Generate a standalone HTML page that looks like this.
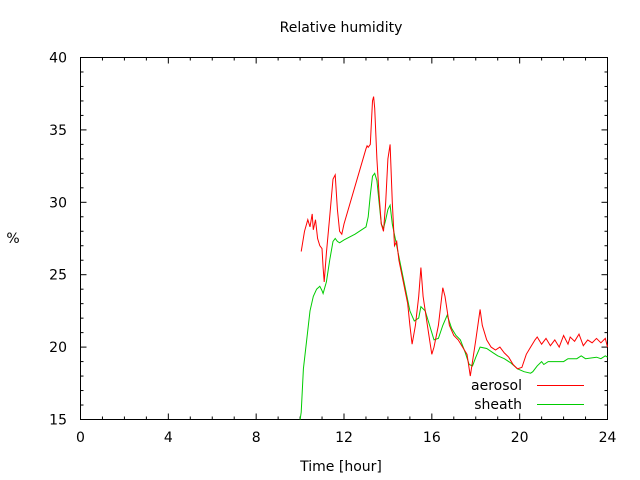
<!DOCTYPE html>
<html><head><meta charset="utf-8"><style>
html,body{margin:0;padding:0;background:#fff}
svg{display:block;font-family:"DejaVu Sans","Liberation Sans",sans-serif;font-size:14px}
</style></head><body>
<svg id="chart" width="640" height="480">
<text x="341" y="32" text-anchor="middle">Relative humidity</text>
<text x="341" y="471" text-anchor="middle">Time [hour]</text>
<text x="13" y="243" text-anchor="middle">%</text>
<rect x="80.5" y="57.5" width="527" height="362" fill="none" stroke="#000"/>
<g id="ticks"></g>
<g id="series"></g>
<g>
<text x="522" y="390" text-anchor="end">aerosol</text>
<line x1="537" y1="385.5" x2="584" y2="385.5" stroke="#f00"/>
<text x="522" y="409" text-anchor="end">sheath</text>
<line x1="537" y1="404.5" x2="584" y2="404.5" stroke="#0c0"/>
</g>
</svg>
<script>
const xTicks=[0,4,8,12,16,20,24];
const yTicks=[15,20,25,30,35,40];
const aerosolT=[10.05,10.2,10.35,10.45,10.55,10.6,10.7,10.8,10.9,11.0,11.05,11.1,11.2,11.35,11.5,11.6,11.7,11.8,11.9,12.0,13.0,13.05,13.1,13.2,13.3,13.35,13.4,13.5,13.6,13.7,13.8,13.9,14.0,14.1,14.2,14.3,14.4,14.5,14.7,14.9,15.0,15.1,15.25,15.4,15.5,15.6,15.8,16.0,16.1,16.3,16.5,16.6,16.8,17.0,17.2,17.4,17.6,17.75,17.85,18.0,18.2,18.3,18.5,18.7,18.9,19.1,19.3,19.5,19.7,19.9,20.1,20.3,20.5,20.7,20.8,21.0,21.2,21.4,21.6,21.8,22.0,22.2,22.3,22.5,22.7,22.9,23.1,23.3,23.5,23.7,23.9,24.0];
const aerosolV=[26.6,28.0,28.8,28.3,29.2,28.1,28.8,27.5,27.0,26.8,25.5,24.5,26.5,29.0,31.6,31.9,29.5,28.0,27.8,28.5,33.7,33.9,33.8,34.0,37.0,37.3,36.5,33.0,30.5,28.5,28.0,30.0,33.0,34.0,30.0,27.0,27.3,26.0,24.5,23.0,21.5,20.2,21.5,23.5,25.5,23.5,21.5,19.5,20.0,21.5,24.1,23.5,21.5,20.8,20.5,20.0,19.5,18.0,19.0,20.5,22.6,21.5,20.5,20.0,19.8,20.0,19.6,19.3,18.8,18.5,18.6,19.5,20.0,20.5,20.7,20.2,20.6,20.1,20.5,20.0,20.8,20.2,20.7,20.4,20.9,20.1,20.5,20.3,20.6,20.3,20.6,20.0];
const sheathT=[10.0,10.05,10.15,10.3,10.45,10.6,10.75,10.9,11.0,11.05,11.2,11.35,11.5,11.6,11.7,11.8,12.0,12.5,13.0,13.1,13.2,13.3,13.4,13.5,13.6,13.7,13.8,13.9,14.0,14.1,14.2,14.4,14.6,14.8,15.0,15.2,15.4,15.5,15.7,15.9,16.1,16.3,16.5,16.7,16.9,17.1,17.3,17.5,17.7,17.85,18.0,18.2,18.5,18.8,19.0,19.3,19.6,19.9,20.2,20.5,20.6,20.8,21.0,21.1,21.3,22.0,22.2,22.6,22.8,23.0,23.5,23.7,23.9,24.0];
const sheathV=[15.0,15.5,18.5,20.5,22.5,23.5,24.0,24.2,23.9,23.7,24.5,26.0,27.3,27.5,27.3,27.2,27.4,27.8,28.3,29.0,30.5,31.8,32.0,31.5,30.0,28.5,28.2,28.8,29.5,29.8,28.5,27.0,25.5,24.0,22.5,21.8,22.0,22.8,22.5,21.5,20.5,20.6,21.5,22.2,21.3,20.8,20.5,19.7,18.8,18.7,19.3,20.0,19.9,19.6,19.4,19.2,18.9,18.5,18.3,18.2,18.3,18.7,19.0,18.8,19.0,19.0,19.2,19.2,19.4,19.2,19.3,19.2,19.4,19.3];
const X0=80.5,X1=607.5,Y0=419.5,Y1=57.5;
function xs(h){return X0+(h-0)/24*(X1-X0);}
function ys(v){return Y0-(v-15)/25*(Y0-Y1);}
const NS='http://www.w3.org/2000/svg';
const tg=document.getElementById('ticks');
function ln(x1,y1,x2,y2,name){const l=document.createElementNS(NS,'line');l.setAttribute('x1',x1);l.setAttribute('y1',y1);l.setAttribute('x2',x2);l.setAttribute('y2',y2);l.setAttribute('stroke','#000');


tg.appendChild(l);}
function tx(x,y,s,anchor,name){const t=document.createElementNS(NS,'text');t.setAttribute('x',x);t.setAttribute('y',y);t.setAttribute('text-anchor',anchor);t.textContent=s;


tg.appendChild(t);}
for(let h=0;h<=24;h++){const x=xs(h);const major=h%4===0;const L=major?6:3;
ln(x,Y0,x,Y0-L,'x-tick');ln(x,Y1,x,Y1+L,'x-tick-top');}
xTicks.forEach(h=>tx(xs(h),442,String(h),'middle','x-tick-label'));
yTicks.forEach(v=>{const y=ys(v);ln(X0,y,X0+6,y,'y-tick');ln(X1,y,X1-6,y,'y-tick-right');tx(67,y+5,String(v),'end','y-tick-label');});
for(let v=16;v<40;v++){if(v%5===0)continue;const y=ys(v);ln(X0,y,X0+3,y,'y-minor-tick');ln(X1,y,X1-3,y,'y-minor-tick-right');}
const sg=document.getElementById('series');
function poly(T,V,color,name){const p=document.createElementNS(NS,'polyline');
p.setAttribute('points',T.map((t,i)=>xs(t).toFixed(1)+','+ys(V[i]).toFixed(1)).join(' '));
p.setAttribute('fill','none');p.setAttribute('stroke',color);p.setAttribute('stroke-width','1');


sg.appendChild(p);}
poly(sheathT,sheathV,'#0c0','sheath-line');
poly(aerosolT,aerosolV,'#f00','aerosol-line');
</script>
</body></html>
